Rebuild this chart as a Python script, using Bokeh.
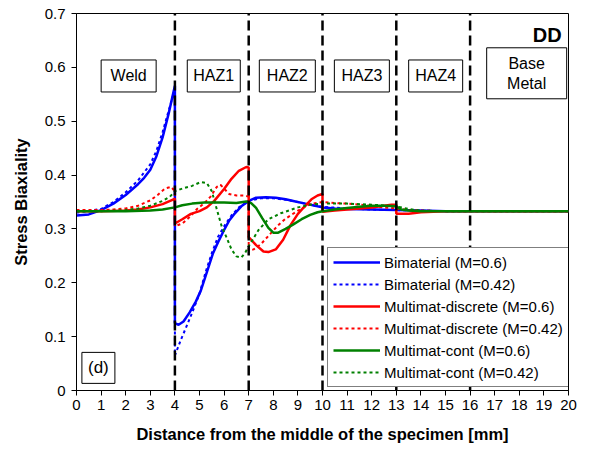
from bokeh.plotting import figure
from bokeh.models import Legend, LegendItem, Range1d
from bokeh.core.properties import value
from bokeh.embed import file_html
from bokeh.resources import INLINE

FONT = "Liberation Sans"

# ---- data ----
bi06_x = [0, 0.5, 1, 1.5, 2, 2.5, 2.75, 3, 3.25, 3.5, 3.75, 4, 4, 4.15, 4.35, 4.6, 4.85, 5.05, 5.3, 5.55, 5.75, 6, 6.2, 6.4, 6.7, 7, 7.3, 7.7, 8.1, 8.5, 8.9, 9.3, 9.7, 10, 10.5, 11, 12, 13, 14, 15, 16, 18, 20]
bi06_y = [0.325, 0.327, 0.335, 0.347, 0.363, 0.383, 0.395, 0.41, 0.435, 0.47, 0.515, 0.566, 0.125, 0.122, 0.128, 0.145, 0.165, 0.185, 0.22, 0.255, 0.275, 0.298, 0.315, 0.327, 0.342, 0.352, 0.358, 0.359, 0.358, 0.355, 0.351, 0.347, 0.343, 0.34, 0.338, 0.337, 0.336, 0.335, 0.334, 0.333, 0.333, 0.333, 0.333]

bi042_x = [0, 1, 1.5, 2, 2.5, 3, 3.25, 3.5, 3.75, 4, 4, 4.25, 4.5, 4.75, 5.0, 5.25, 5.5, 5.75, 6, 6.3, 6.6, 7, 7.5, 8, 8.5, 9, 9.5, 10, 11, 12, 13, 14, 15, 20]
bi042_y = [0.33, 0.337, 0.35, 0.368, 0.39, 0.42, 0.445, 0.48, 0.52, 0.56, 0.065, 0.095, 0.122, 0.15, 0.18, 0.22, 0.255, 0.285, 0.305, 0.325, 0.34, 0.352, 0.357, 0.357, 0.354, 0.35, 0.345, 0.341, 0.338, 0.336, 0.335, 0.334, 0.333, 0.333]

md06_x = [0, 1, 2, 2.5, 3, 3.5, 3.9, 4, 4, 4.3, 4.65, 5, 5.3, 5.6, 6, 6.3, 6.6, 6.9, 7, 7, 7.3, 7.6, 7.8, 8.1, 8.4, 8.7, 9.0, 9.2, 9.55, 9.8, 10, 10, 10.5, 11, 11.5, 12, 12.5, 12.8, 13, 13, 13.5, 14, 14.5, 15, 20]
md06_y = [0.333, 0.333, 0.334, 0.336, 0.34, 0.346, 0.354, 0.356, 0.31, 0.318, 0.328, 0.333, 0.34, 0.352, 0.374, 0.393, 0.408, 0.415, 0.414, 0.285, 0.27, 0.258, 0.257, 0.262, 0.28, 0.307, 0.328, 0.338, 0.355, 0.362, 0.365, 0.332, 0.334, 0.336, 0.338, 0.34, 0.343, 0.345, 0.345, 0.328, 0.328, 0.331, 0.332, 0.333, 0.333]

md042_x = [0, 1, 1.5, 2, 2.5, 3, 3.3, 3.6, 3.85, 4, 4, 4.3, 4.6, 4.9, 5.2, 5.45, 5.7, 5.85, 6.0, 6.2, 6.5, 6.8, 7, 7, 7.2, 7.5, 7.8, 8.2, 8.5, 9, 9.5, 10, 10.5, 11, 12, 12.5, 13, 13.5, 14, 15, 20]
md042_y = [0.335, 0.335, 0.336, 0.338, 0.343, 0.353, 0.363, 0.375, 0.378, 0.37, 0.305, 0.31, 0.322, 0.337, 0.348, 0.36, 0.378, 0.382, 0.375, 0.365, 0.362, 0.362, 0.36, 0.26, 0.262, 0.272, 0.287, 0.307, 0.319, 0.334, 0.346, 0.35, 0.348, 0.347, 0.343, 0.34, 0.338, 0.335, 0.334, 0.333, 0.333]

mc06_x = [0, 2, 3, 3.5, 4, 4.3, 4.7, 5.2, 6, 6.5, 6.9, 7.1, 7.3, 7.55, 7.8, 8.0, 8.2, 8.5, 8.8, 9.15, 9.5, 9.8, 10, 10.5, 11, 11.5, 12, 12.5, 13, 13.2, 13.5, 14, 20]
mc06_y = [0.333, 0.333, 0.334, 0.336, 0.34, 0.344, 0.347, 0.349, 0.349, 0.348, 0.351, 0.348, 0.339, 0.32, 0.302, 0.293, 0.293, 0.3, 0.308, 0.318, 0.326, 0.331, 0.333, 0.336, 0.339, 0.341, 0.343, 0.343, 0.342, 0.336, 0.334, 0.333, 0.333]

mc042_x = [0, 1, 2, 2.5, 3, 3.5, 3.8, 4, 4.3, 4.7, 5.05, 5.3, 5.5, 5.7, 5.9, 6.1, 6.3, 6.5, 6.7, 6.85, 7.0, 7.2, 7.4, 7.8, 8.3, 9, 9.5, 10, 11, 12, 13, 13.5, 14, 15, 20]
mc042_y = [0.333, 0.333, 0.335, 0.338, 0.343, 0.352, 0.36, 0.37, 0.375, 0.38, 0.387, 0.385, 0.37, 0.337, 0.305, 0.284, 0.262, 0.249, 0.247, 0.255, 0.268, 0.283, 0.298, 0.318, 0.329, 0.34, 0.345, 0.347, 0.347, 0.345, 0.342, 0.337, 0.334, 0.333, 0.333]

series_labels = ["Bimaterial (M=0.6)", "Bimaterial (M=0.42)",
                 "Multimat-discrete (M=0.6)", "Multimat-discrete (M=0.42)",
                 "Multimat-cont (M=0.6)", "Multimat-cont (M=0.42)"]

zone_bounds = [4, 7, 10, 13, 16]
zone_names = ["Weld", "HAZ1", "HAZ2", "HAZ3", "HAZ4", "Base\nMetal"]
zone_x = [2.12, 5.58, 8.57, 11.6, 14.6, 18.3]
zone_y = [0.584, 0.584, 0.584, 0.584, 0.584, 0.589]
zone_w = [55, 53, 56, 55, 54, 80]
zone_h = [32, 32, 32, 32, 32, 51]

x_ticks = list(range(0, 21))
y_ticks = [0, 0.1, 0.2, 0.3, 0.4, 0.5, 0.6, 0.7]
y_tick_labels = ["0", "0.1", "0.2", "0.3", "0.4", "0.5", "0.6", "0.7"]

# ---- figure ----
p = figure(width=577, height=448, output_backend="svg", toolbar_location=None,
           x_range=Range1d(0, 20), y_range=Range1d(0, 0.7),
           min_border_left=76, min_border_right=9, min_border_top=13, min_border_bottom=58)
p.xgrid.visible = False
p.ygrid.visible = False
p.outline_line_color = "black"
p.outline_line_width = 1
p.background_fill_color = "white"
p.border_fill_color = "white"

for ax in (p.xaxis[0], p.yaxis[0]):
    ax.axis_line_color = "black"
    ax.major_tick_line_color = "black"
    ax.major_tick_out = 5
    ax.major_tick_in = 0
    ax.minor_tick_line_color = None
    ax.major_label_text_font = FONT
    ax.major_label_text_font_size = "15px"
    ax.major_label_text_color = "black"
    ax.axis_label_text_font = FONT
    ax.axis_label_text_font_size = "16.5px"
    ax.axis_label_text_font_style = "bold"
    ax.axis_label_text_color = "black"

p.xaxis.ticker = x_ticks
p.yaxis.ticker = y_ticks
p.yaxis.major_label_overrides = {t: l for t, l in zip(y_ticks, y_tick_labels)}
p.xaxis.axis_label = "Distance from the middle of the specimen [mm]"
p.yaxis.axis_label = "Stress Biaxiality"
p.xaxis.major_label_standoff = 4
p.yaxis.major_label_standoff = 6
p.xaxis.axis_label_standoff = 12
p.yaxis.axis_label_standoff = 12

BLUE, RED, GREEN = "#0000FF", "#FF0000", "#008000"
specs = [
    (bi06_x, bi06_y, BLUE, "solid", 2.5),
    (bi042_x, bi042_y, BLUE, "3 3", 2),
    (md06_x, md06_y, RED, "solid", 2.5),
    (md042_x, md042_y, RED, "3 3", 2),
    (mc06_x, mc06_y, GREEN, "solid", 2.5),
    (mc042_x, mc042_y, GREEN, "3 3", 2),
]
renderers = []
for xs, ys, c, dash, w in specs:
    r = p.line(xs, ys, line_color=c, line_width=w, line_dash=dash)
    renderers.append(r)

# zone boundaries
p.segment(x0=zone_bounds, y0=[0] * len(zone_bounds), x1=zone_bounds, y1=[0.7] * len(zone_bounds),
          line_color="black", line_width=2.5, line_dash="10 5")

# zone labels
p.rect(x=zone_x, y=zone_y, width=zone_w, height=zone_h, width_units="screen", height_units="screen",
       fill_color="white", line_color="black", line_width=1)
p.text(x=zone_x, y=zone_y, text=zone_names, text_font=value(FONT), text_font_size=value("16px"),
       text_align="center", text_baseline="middle", text_color="black", text_line_height=1.2)

# panel tag (d)
p.rect(x=[0.89], y=[0.042], width=33, height=31, width_units="screen", height_units="screen",
       fill_color="white", line_color="black", line_width=1)
p.text(x=[0.89], y=[0.042], text=["(d)"], text_font=value(FONT), text_font_size=value("17px"),
       text_align="center", text_baseline="middle", text_color="black")

# DD
p.text(x=[19.72], y=[0.66], text=["DD"], text_font=value(FONT), text_font_size=value("20px"),
       text_font_style="bold", text_align="right", text_baseline="middle", text_color="black")

legend = Legend(items=[LegendItem(label=l, renderers=[r]) for l, r in zip(series_labels, renderers)],
                location=(251, 3), orientation="vertical",
                label_text_font=FONT, label_text_font_size="15px", label_text_color="black",
                glyph_width=47, glyph_height=18, label_height=18, label_standoff=4,
                spacing=4, padding=5, margin=0,
                border_line_color="black", border_line_width=1,
                background_fill_color="white", background_fill_alpha=1)
p.add_layout(legend)

open("out.html", "w").write(file_html(p, INLINE))
